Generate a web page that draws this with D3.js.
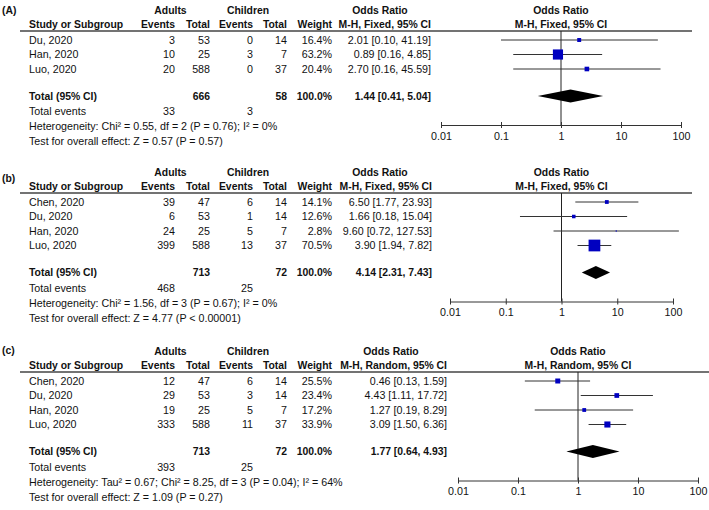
<!DOCTYPE html>
<html>
<head>
<meta charset="utf-8">
<script src="https://cdn.jsdelivr.net/npm/d3@7.9.0/dist/d3.min.js"></script>
<style>
  body { margin: 0; background: #fff; }
  text { font-family: "Liberation Sans", Arial, sans-serif; font-size: 10.7px; fill: #111; }
  .b { font-weight: bold; font-size: 10.4px; }
</style>
</head>
<body>
<svg id="chart" width="709" height="510"></svg>
<script>
// ---- data: panel A ----
const studiesA = ['Du, 2020', 'Han, 2020', 'Luo, 2020'];
const adultEventsA = [3, 10, 20];
const adultTotalA = [53, 25, 588];
const childEventsA = [0, 3, 0];
const childTotalA = [14, 7, 37];
const weightA = [16.4, 63.2, 20.4];
const orA = [2.01, 0.89, 2.70];
const lowA = [0.10, 0.16, 0.16];
const highA = [41.19, 4.85, 45.59];
const pooledA = [1.44, 0.41, 5.04]; // OR, low, high
const sumA = [666, 58, 33, 3]; // adult total, child total, adult events, child events

// ---- data: panel b ----
const studiesB = ['Chen, 2020', 'Du, 2020', 'Han, 2020', 'Luo, 2020'];
const adultEventsB = [39, 6, 24, 399];
const adultTotalB = [47, 53, 25, 588];
const childEventsB = [6, 1, 5, 13];
const childTotalB = [14, 14, 7, 37];
const weightB = [14.1, 12.6, 2.8, 70.5];
const orB = [6.50, 1.66, 9.60, 3.90];
const lowB = [1.77, 0.18, 0.72, 1.94];
const highB = [23.93, 15.04, 127.53, 7.82];
const pooledB = [4.14, 2.31, 7.43];
const sumB = [713, 72, 468, 25];

// ---- data: panel c ----
const studiesC = ['Chen, 2020', 'Du, 2020', 'Han, 2020', 'Luo, 2020'];
const adultEventsC = [12, 29, 19, 333];
const adultTotalC = [47, 53, 25, 588];
const childEventsC = [6, 3, 5, 11];
const childTotalC = [14, 14, 7, 37];
const weightC = [25.5, 23.4, 17.2, 33.9];
const orC = [0.46, 4.43, 1.27, 3.09];
const lowC = [0.13, 1.11, 0.19, 1.50];
const highC = [1.59, 17.72, 8.29, 6.36];
const pooledC = [1.77, 0.64, 4.93];
const sumC = [713, 72, 393, 25];

const axisTicks = [0.01, 0.1, 1, 10, 100];
const tickLabels = ['0.01', '0.1', '1', '10', '100'];

const panels = [
  { label: '(A)', method: 'M-H, Fixed, 95% CI',
    studies: studiesA, ae: adultEventsA, at: adultTotalA, ce: childEventsA, ct: childTotalA,
    w: weightA, or: orA, lo: lowA, hi: highA, pooled: pooledA, sum: sumA,
    het: 'Heterogeneity: Chi² = 0.55, df = 2 (P = 0.76); I² = 0%',
    test: 'Test for overall effect: Z = 0.57 (P = 0.57)',
    top: 10, labelY: 10, xr: [441, 681], orRight: 431, orHead: 380, ruleEnd: 692, boxMax: 14 },
  { label: '(b)', method: 'M-H, Fixed, 95% CI',
    studies: studiesB, ae: adultEventsB, at: adultTotalB, ce: childEventsB, ct: childTotalB,
    w: weightB, or: orB, lo: lowB, hi: highB, pooled: pooledB, sum: sumB,
    het: 'Heterogeneity: Chi² = 1.56, df = 3 (P = 0.67); I² = 0%',
    test: 'Test for overall effect: Z = 4.77 (P < 0.00001)',
    top: 172, labelY: 178, xr: [450, 673], orRight: 432, orHead: 380, ruleEnd: 692, boxMax: 15 },
  { label: '(c)', method: 'M-H, Random, 95% CI',
    studies: studiesC, ae: adultEventsC, at: adultTotalC, ce: childEventsC, ct: childTotalC,
    w: weightC, or: orC, lo: lowC, hi: highC, pooled: pooledC, sum: sumC,
    het: 'Heterogeneity: Tau² = 0.67; Chi² = 8.25, df = 3 (P = 0.04); I² = 64%',
    test: 'Test for overall effect: Z = 1.09 (P = 0.27)',
    top: 351, labelY: 350, xr: [458, 698], orRight: 447, orHead: 391, ruleEnd: 709, boxMax: 13 }
];

const svg = d3.select('#chart');
const fmt = d3.format('.2f');
const orText = (o, l, h) => `${fmt(o)} [${fmt(l)}, ${fmt(h)}]`;

// right edges of the numeric columns
const colX = { ae: 175, at: 210, ce: 253, ct: 287, w: 332 };
const studyX = 29;
const rowGap = 14.5;

function txt(g, x, y, s, anchor, bold) {
  return g.append('text')
    .attr('x', x).attr('y', y)
    .attr('dy', '0.35em')
    .attr('text-anchor', anchor || 'start')
    .attr('class', bold ? 'b' : null)
    .text(s);
}

panels.forEach(p => {
  const g = svg.append('g');
  const x = d3.scaleLog().domain([0.01, 100]).range(p.xr);
  const box = d3.scalePow().exponent(0.7).domain([0, 100]).range([0, p.boxMax]);

  const yHead = p.top + 14;
  const yRule = p.top + 21;
  const rowY = i => p.top + 30 + i * rowGap;
  const yTotal = rowY(p.studies.length - 1) + 27;
  const yAxis = yTotal + 29;

  // headers
  txt(g, 2, p.labelY, p.label, 'start', true);
  txt(g, (colX.ae + colX.at) / 2 - 22, p.top, 'Adults', 'middle', true);
  txt(g, (colX.ce + colX.ct) / 2 - 22, p.top, 'Children', 'middle', true);
  txt(g, p.orHead, p.top, 'Odds Ratio', 'middle', true);
  txt(g, x(1), p.top, 'Odds Ratio', 'middle', true);
  txt(g, studyX, yHead, 'Study or Subgroup', 'start', true);
  txt(g, colX.ae, yHead, 'Events', 'end', true);
  txt(g, colX.at, yHead, 'Total', 'end', true);
  txt(g, colX.ce, yHead, 'Events', 'end', true);
  txt(g, colX.ct, yHead, 'Total', 'end', true);
  txt(g, colX.w, yHead, 'Weight', 'end', true);
  txt(g, p.orRight, yHead, p.method, 'end', true);
  txt(g, x(1), yHead, p.method, 'middle', true);

  g.append('line')
    .attr('x1', 20).attr('x2', p.ruleEnd)
    .attr('y1', yRule).attr('y2', yRule)
    .attr('stroke', '#444').attr('stroke-width', 1.5);

  // null line
  g.append('line')
    .attr('x1', x(1)).attr('x2', x(1))
    .attr('y1', yRule).attr('y2', yAxis)
    .attr('stroke', '#222').attr('stroke-width', 1);

  // study rows
  p.studies.forEach((s, i) => {
    const y = rowY(i);
    txt(g, studyX, y, s);
    txt(g, colX.ae, y, p.ae[i], 'end');
    txt(g, colX.at, y, p.at[i], 'end');
    txt(g, colX.ce, y, p.ce[i], 'end');
    txt(g, colX.ct, y, p.ct[i], 'end');
    txt(g, colX.w, y, p.w[i].toFixed(1) + '%', 'end');
    txt(g, p.orRight, y, orText(p.or[i], p.lo[i], p.hi[i]), 'end');

    g.append('line')
      .attr('x1', x(p.lo[i])).attr('x2', x(p.hi[i]))
      .attr('y1', y).attr('y2', y)
      .attr('stroke', '#333').attr('stroke-width', 1);
    const sz = Math.max(1.2, box(p.w[i]));
    g.append('rect')
      .attr('x', x(p.or[i]) - sz / 2).attr('y', y - sz / 2)
      .attr('width', sz).attr('height', sz)
      .attr('fill', '#0000c0');
  });

  // totals
  txt(g, studyX, yTotal, 'Total (95% CI)', 'start', true);
  txt(g, colX.at, yTotal, p.sum[0], 'end', true);
  txt(g, colX.ct, yTotal, p.sum[1], 'end', true);
  txt(g, colX.w, yTotal, '100.0%', 'end', true);
  txt(g, p.orRight, yTotal, orText(p.pooled[0], p.pooled[1], p.pooled[2]), 'end', true);

  const h = 6.5;
  g.append('path')
    .attr('d', `M${x(p.pooled[1])},${yTotal} L${x(p.pooled[0])},${yTotal - h} L${x(p.pooled[2])},${yTotal} L${x(p.pooled[0])},${yTotal + h} Z`)
    .attr('fill', '#000');

  const yEv = yTotal + 15.5;
  txt(g, studyX, yEv, 'Total events');
  txt(g, colX.ae, yEv, p.sum[2], 'end');
  txt(g, colX.ce, yEv, p.sum[3], 'end');
  txt(g, studyX, yEv + 15, p.het);
  txt(g, studyX, yEv + 30, p.test);

  // axis
  const ax = g.append('g').attr('transform', `translate(0,${yAxis})`)
    .call(d3.axisBottom(x).tickValues(axisTicks)
      .tickFormat((d, i) => tickLabels[i])
      .tickSizeInner(3).tickSizeOuter(0).tickPadding(4));
  ax.select('.domain').attr('stroke', '#333');
  ax.selectAll('.tick line').attr('y1', -3).attr('y2', 3).attr('stroke', '#333');
  ax.selectAll('.tick text')
    .style('font-family', '"Liberation Sans", Arial, sans-serif')
    .style('font-size', '10.7px').attr('fill', '#111');
});
</script>
</body>
</html>
